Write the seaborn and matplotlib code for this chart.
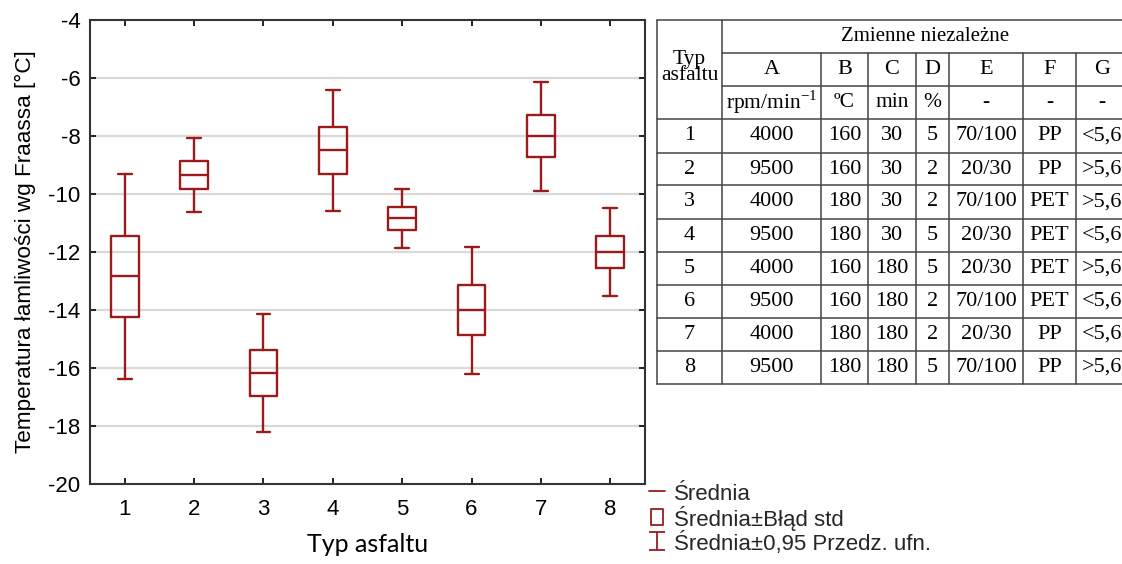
import numpy as np
import pandas as pd
import matplotlib as mpl
mpl.use("Agg")
import matplotlib.pyplot as plt
import seaborn as sns
from matplotlib.lines import Line2D
from matplotlib.path import Path

# ── data ──────────────────────────────────────────────────────────────────────
asphalt = [1, 2, 3, 4, 5, 6, 7, 8]
mean    = [-12.84, -9.33, -16.17, -8.49, -10.84, -14.01, -8.00, -12.01]
se_hi   = [-11.46, -8.86, -15.38, -7.69, -10.44, -13.15, -7.29, -11.46]
se_lo   = [-14.23, -9.84, -16.97, -9.30, -11.24, -14.87, -8.74, -12.54]
ci_hi   = [-9.31, -8.07, -14.14, -6.43, -9.82, -11.82, -6.13, -10.48]
ci_lo   = [-16.38, -10.62, -18.22, -10.57, -11.87, -16.21, -9.90, -13.52]

tab_cols  = ["A", "B", "C", "D", "E", "F", "G"]
tab_units = ["rpm/min$^{\\mathregular{-1}}$", "\u00baC", "min", "%", "-", "-", "-"]
col_A = ["4000", "9500", "4000", "9500", "4000", "9500", "4000", "9500"]
col_B = ["160", "160", "180", "180", "160", "160", "180", "180"]
col_C = ["30", "30", "30", "30", "180", "180", "180", "180"]
col_D = ["5", "2", "2", "5", "5", "2", "2", "5"]
col_E = ["70/100", "20/30", "70/100", "20/30", "20/30", "70/100", "20/30", "70/100"]
col_F = ["PP", "PP", "PET", "PET", "PET", "PET", "PP", "PP"]
col_G = ["<5,6", ">5,6", ">5,6", "<5,6", ">5,6", "<5,6", "<5,6", ">5,6"]

df = pd.DataFrame({"typ": asphalt, "mean": mean, "se_lo": se_lo, "se_hi": se_hi,
                   "ci_lo": ci_lo, "ci_hi": ci_hi})

RED = "#9a1b1b"
SANS = ["Liberation Sans", "DejaVu Sans"]
SERIF = ["Liberation Serif", "DejaVu Serif"]

sns.set_theme(style="ticks")
plt.rcParams["font.family"] = SANS
plt.rcParams["axes.unicode_minus"] = False
plt.rcParams["mathtext.fontset"] = "custom"
plt.rcParams["mathtext.rm"] = "Liberation Serif"

W, H = 1122, 564
fig = plt.figure(figsize=(W / 100, H / 100), dpi=100)
ax = fig.add_axes([90 / W, 1 - 484 / H, (645 - 90) / W, (484 - 20) / H])

stats = [{"med": r["mean"], "q1": r["se_lo"], "q3": r["se_hi"],
          "whislo": r["ci_lo"], "whishi": r["ci_hi"], "fliers": []}
         for _, r in df.iterrows()]
ax.bxp(stats, positions=df["typ"], widths=0.4, showfliers=False,
       boxprops=dict(color=RED, lw=1.7), medianprops=dict(color=RED, lw=1.7),
       whiskerprops=dict(color=RED, lw=1.7), capprops=dict(color=RED, lw=1.7),
       capwidths=0.2)

ax.set_xlim(0.5, 8.5)
ax.set_ylim(-20, -4)
ax.set_xticks(asphalt)
ax.set_xticklabels([str(a) for a in asphalt])
ax.set_yticks(np.arange(-20, -3, 2))
for y in np.arange(-18, -5, 2):
    ax.axhline(y, color="#d9d9d9", lw=1.6, zorder=0)
ax.tick_params(direction="in", length=4, width=1.2, top=True, right=True,
               labelsize=16, colors="black")
ax.tick_params(axis="y", pad=7)
ax.tick_params(axis="x", pad=11)
for sp in ax.spines.values():
    sp.set_linewidth(1.5)
    sp.set_color("#333333")
ax.set_xlabel("Typ asfaltu", fontsize=18, labelpad=9, color="black",
              family=["Lato", "DejaVu Sans"])
ax.set_ylabel("Temperatura łamliwości wg Fraassa [°C]", fontsize=16.2,
              labelpad=9, color="black")

# legend
box_mk = Path([(-0.8, -1), (0.8, -1), (0.8, 1), (-0.8, 1), (-0.8, -1)],
              [Path.MOVETO, Path.LINETO, Path.LINETO, Path.LINETO,
               Path.CLOSEPOLY])
ibeam = Path([(-0.9, -1), (0.9, -1), (0, -1), (0, 1), (-0.9, 1), (0.9, 1)],
             [Path.MOVETO, Path.LINETO, Path.MOVETO, Path.LINETO,
              Path.MOVETO, Path.LINETO])
handles = [
    Line2D([], [], color=RED, lw=1.3),
    Line2D([], [], color=RED, marker=box_mk, markersize=11.5, mew=1.3,
           linestyle="none", markerfacecolor="none"),
    Line2D([], [], color=RED, marker=ibeam, markersize=13.5, mew=1.3,
           linestyle="none", markerfacecolor="none"),
]
labels = ["Średnia", "Średnia±Błąd std", "Średnia±0,95 Przedz. ufn."]
fig.legend(handles, labels, loc="upper left",
           bbox_to_anchor=(649 / W, 1 - 482 / H), frameon=False,
           fontsize=16, handlelength=0.72, handleheight=1.0,
           handletextpad=0.4, labelspacing=0.05, borderpad=0.0,
           borderaxespad=0)

# table on the right, drawn in pixel coordinates
tx = fig.add_axes([0, 0, 1, 1], zorder=-1)
tx.set_xlim(0, W)
tx.set_ylim(H, 0)
tx.axis("off")

xs = [657, 722, 821, 868, 916, 949, 1023, 1076, 1135]
ys = [20, 53, 86, 119, 153, 185, 219, 252, 285, 318, 351, 384]
lc = dict(color="#444444", lw=1.1)

tx.plot([xs[0], xs[-1]], [ys[0], ys[0]], **lc)
tx.plot([xs[0], xs[-1]], [ys[-1], ys[-1]], **lc)
tx.plot([xs[0], xs[0]], [ys[0], ys[-1]], **lc)
tx.plot([xs[1], xs[1]], [ys[0], ys[-1]], **lc)
for x in xs[2:-1]:
    tx.plot([x, x], [ys[1], ys[-1]], **lc)
for y in ys[1:3]:
    tx.plot([xs[1], xs[-1]], [y, y], **lc)
for y in ys[3:-1]:
    tx.plot([xs[0], xs[-1]], [y, y], **lc)

cx = [(a + b) / 2 for a, b in zip(xs[:-1], xs[1:])]
cx[-1] = 1102
cy = [(a + b) / 2 for a, b in zip(ys[:-1], ys[1:])]
tkw = dict(ha="center", va="center", family=SERIF, color="black")
tx.text(cx[0], (ys[0] + ys[3]) / 2 - 2, "Typ\nasfaltu", fontsize=15.5,
        linespacing=0.8, **tkw)
tx.text(925, cy[0], "Zmienne niezależne", fontsize=15, **tkw)
for j, (name, unit) in enumerate(zip(tab_cols, tab_units)):
    tx.text(cx[j + 1], cy[1], name, fontsize=16, **tkw)
    tx.text(cx[j + 1], cy[2], unit, fontsize=15.5, **tkw)
columns = [col_A, col_B, col_C, col_D, col_E, col_F, col_G]
for i, typ in enumerate(asphalt):
    tx.text(cx[0], cy[i + 3], str(typ), fontsize=16, **tkw)
    for j, col in enumerate(columns):
        tx.text(cx[j + 1], cy[i + 3], col[i], fontsize=16, **tkw)

fig.savefig("out.png", dpi=100)
